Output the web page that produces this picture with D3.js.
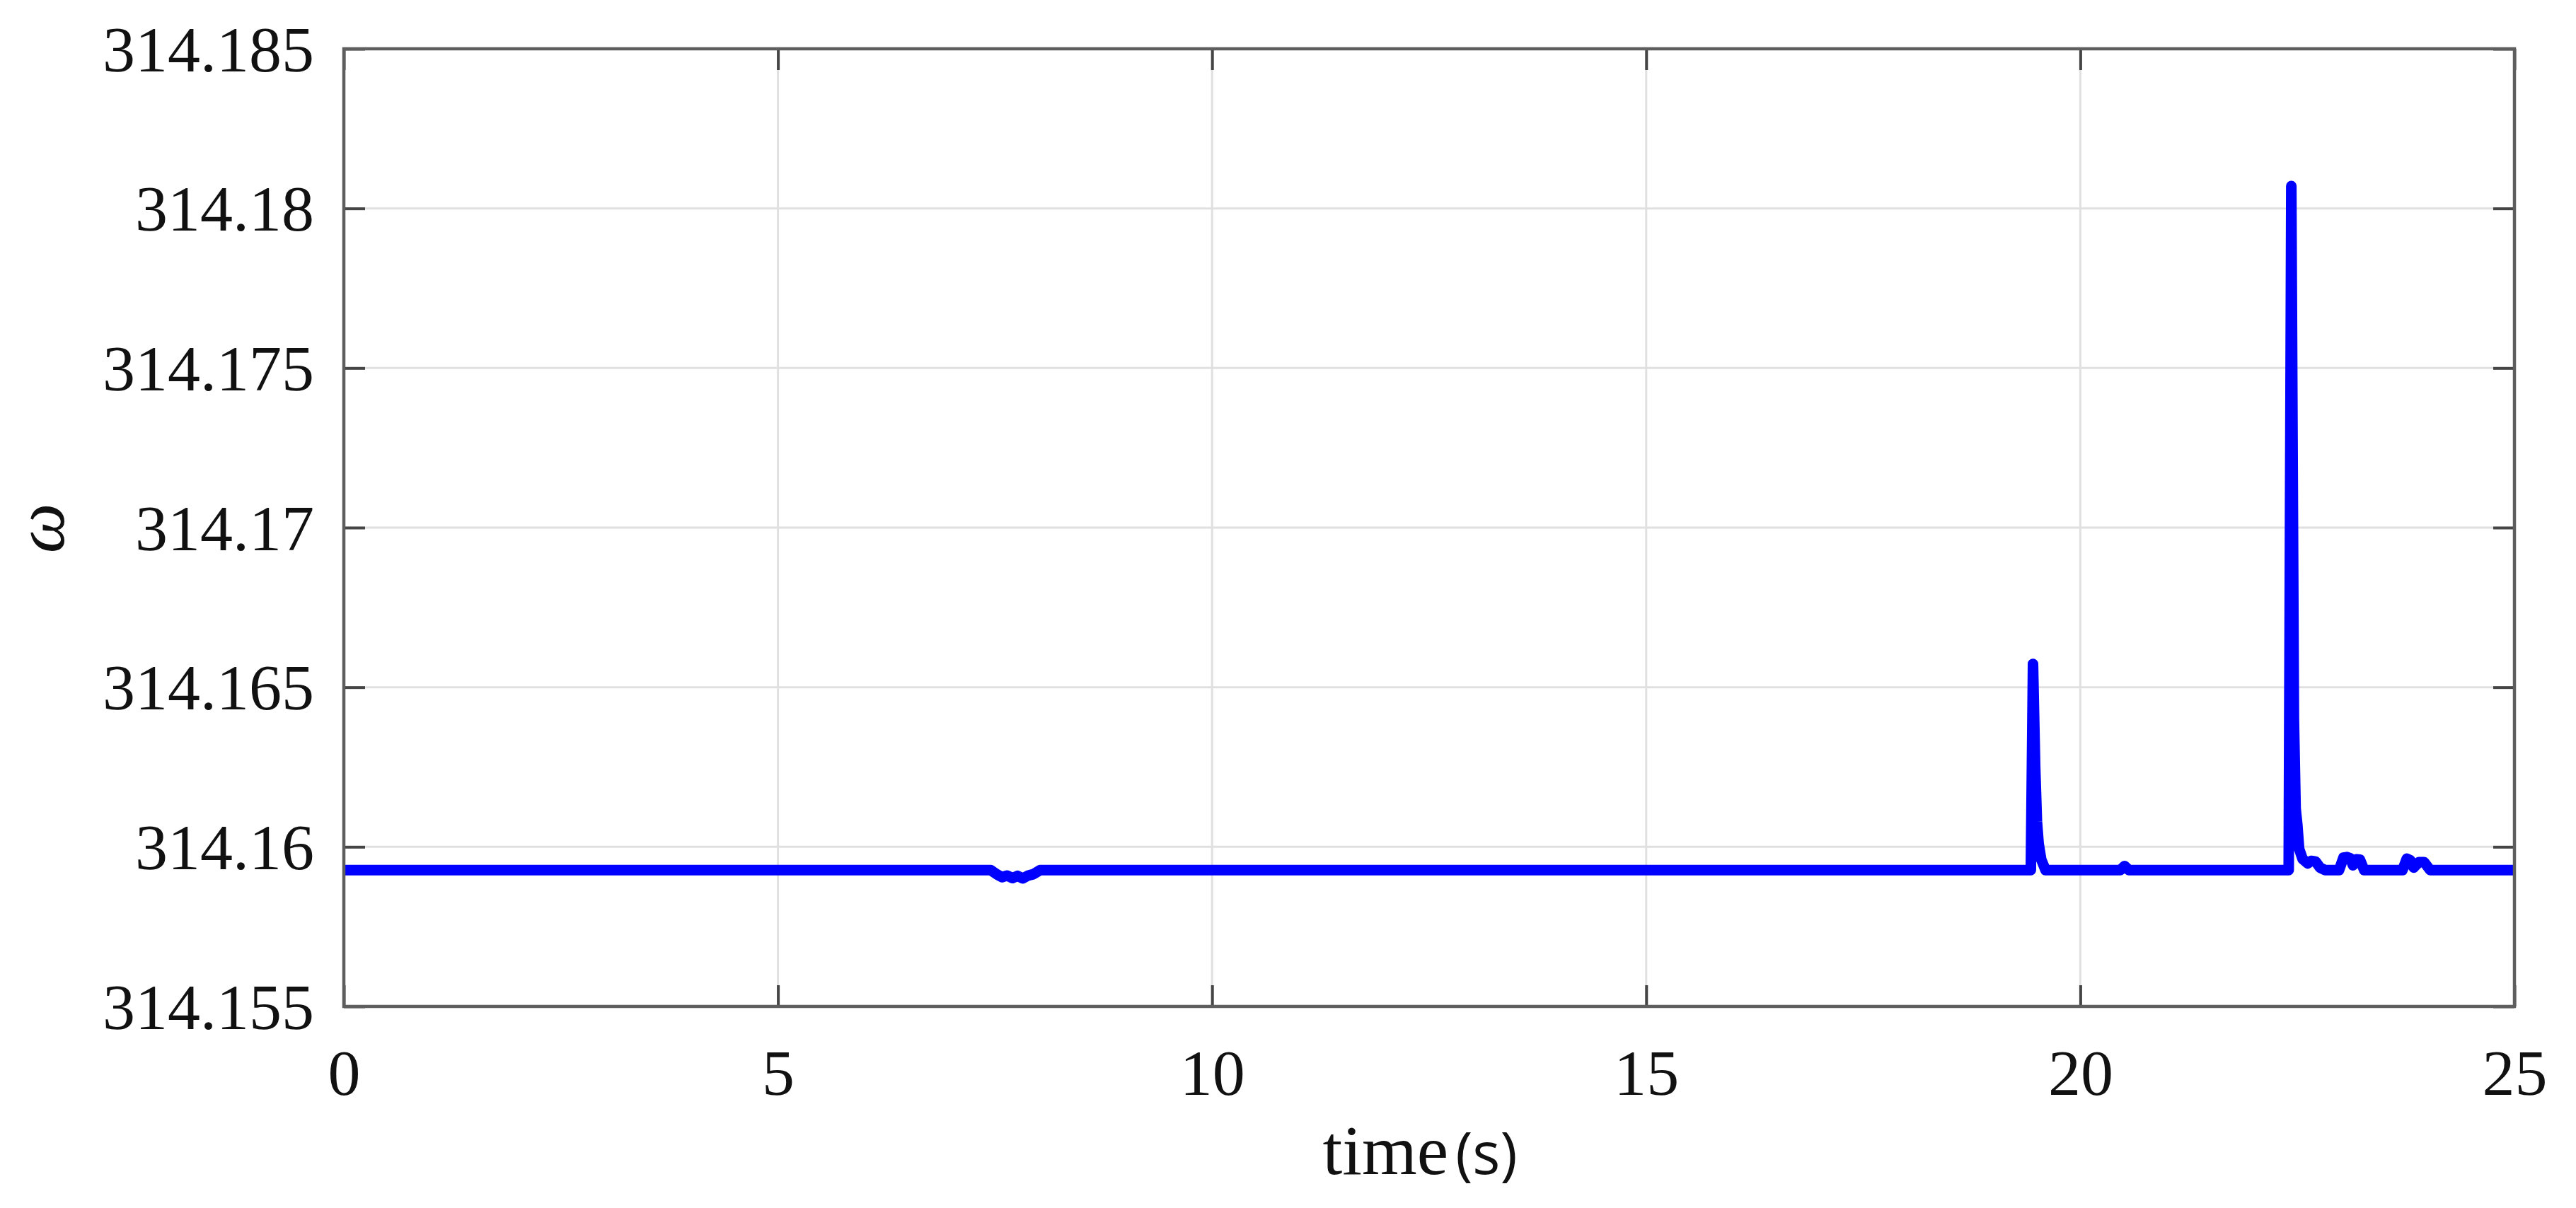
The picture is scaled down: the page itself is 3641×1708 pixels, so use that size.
<!DOCTYPE html>
<html>
<head>
<meta charset="utf-8">
<script src="https://cdnjs.cloudflare.com/ajax/libs/d3/7.8.5/d3.min.js"></script>
<style>
  body { margin: 0; background: #fff; }
  svg { display: block; }
</style>
</head>
<body>
<svg width="3641" height="1708"></svg>
<script>
// time (s) and rotor speed omega
var time = [0, 7.45, 7.52, 7.58, 7.64, 7.70, 7.76, 7.82, 7.88, 7.94, 8.02,
  19.43, 19.455, 19.48, 19.50, 19.52, 19.55, 19.60,
  20.46, 20.51, 20.56,
  22.40, 22.43, 22.46, 22.48, 22.50, 22.52, 22.56, 22.62, 22.66, 22.71, 22.76, 22.82,
  22.98, 23.03, 23.07, 23.11, 23.14, 23.18, 23.22, 23.27,
  23.71, 23.76, 23.80, 23.84, 23.90, 23.96, 24.03, 25];
var omega = [314.15927, 314.15927, 314.15914, 314.15905, 314.15910, 314.15902, 314.15909, 314.15901, 314.15910, 314.15914, 314.15927,
  314.15927, 314.16573, 314.16250, 314.16080, 314.16010, 314.15960, 314.15927,
  314.15927, 314.15940, 314.15927,
  314.15927, 314.18070, 314.16400, 314.16120, 314.16067, 314.15994, 314.15962, 314.15948, 314.15956, 314.15954, 314.15935, 314.15927,
  314.15927, 314.15966, 314.15968, 314.15964, 314.15942, 314.15961, 314.15960, 314.15927,
  314.15927, 314.15963, 314.15958, 314.15935, 314.15952, 314.15952, 314.15927, 314.15927];

var xTicks = [0, 5, 10, 15, 20, 25];
var yTicks = [314.155, 314.16, 314.165, 314.17, 314.175, 314.18, 314.185];
var yTickLabels = ["314.155", "314.16", "314.165", "314.17", "314.175", "314.18", "314.185"];

var svg = d3.select("svg"),
    margin = {top: 69, right: 87, bottom: 285, left: 486},
    width = +svg.attr("width") - margin.left - margin.right,
    height = +svg.attr("height") - margin.top - margin.bottom,
    g = svg.append("g").attr("transform", "translate(" + margin.left + "," + margin.top + ")");

var serif = "'Liberation Serif', 'Times New Roman', serif";

var x = d3.scaleLinear().domain([0, 25]).range([0, width]);
var y = d3.scaleLinear().domain([314.155, 314.185]).range([height, 0]);

// grid
g.append("g").selectAll("line")
  .data(xTicks)
  .enter().append("line")
    .attr("x1", function(d) { return x(d); })
    .attr("x2", function(d) { return x(d); })
    .attr("y1", 0)
    .attr("y2", height)
    .attr("stroke", "#e0e0e0")
    .attr("stroke-width", 3);

g.append("g").selectAll("line")
  .data(yTicks)
  .enter().append("line")
    .attr("x1", 0)
    .attr("x2", width)
    .attr("y1", function(d) { return y(d); })
    .attr("y2", function(d) { return y(d); })
    .attr("stroke", "#e0e0e0")
    .attr("stroke-width", 3);

// data line
var line = d3.line()
    .x(function(d, i) { return x(time[i]); })
    .y(function(d) { return y(d); });

g.append("path")
    .datum(omega)
    .attr("d", line)
    .attr("fill", "none")
    .attr("stroke", "#0000ff")
    .attr("stroke-width", 15)
    .attr("stroke-linejoin", "round")
    .attr("stroke-linecap", "butt");

// axes, ticks pointing inward on all four sides
function styleAxis(sel) {
  sel.select(".domain").remove();
  sel.selectAll(".tick line").attr("stroke", "#454545").attr("stroke-width", 4);
  sel.selectAll("text")
    .attr("fill", "#111")
    .style("font-family", serif)
    .style("font-size", "92px");
}

var xAxis = g.append("g")
    .attr("transform", "translate(0," + height + ")")
    .call(d3.axisBottom(x).tickValues(xTicks).tickFormat(d3.format("d")).tickSizeInner(-30).tickSizeOuter(0))
    .call(styleAxis);
xAxis.selectAll("text").attr("y", 125).attr("dy", 0);

var yAxis = g.append("g")
    .call(d3.axisLeft(y).tickValues(yTicks).tickFormat(function(d, i) { return yTickLabels[i]; })
      .tickSizeInner(-30).tickSizeOuter(0).tickPadding(42))
    .call(styleAxis);
yAxis.selectAll("text").attr("dy", "0.34em");

g.append("g")
    .call(d3.axisTop(x).tickValues(xTicks).tickFormat("").tickSizeInner(-30).tickSizeOuter(0))
    .call(styleAxis);

g.append("g")
    .attr("transform", "translate(" + width + ",0)")
    .call(d3.axisRight(y).tickValues(yTicks).tickFormat("").tickSizeInner(-30).tickSizeOuter(0))
    .call(styleAxis);

// box
g.append("rect")
    .attr("width", width)
    .attr("height", height)
    .attr("fill", "none")
    .attr("stroke", "#5e5e5e")
    .attr("stroke-width", 4.5);

// x label: "time" in serif, "(s)" in sans
var xl = svg.append("text")
    .attr("x", 2007)
    .attr("y", 1660)
    .attr("text-anchor", "middle")
    .attr("fill", "#111");
xl.append("tspan")
    .style("font-family", serif)
    .style("font-size", "100px")
    .text("time");
xl.append("tspan")
    .attr("dx", 10)
    .style("font-family", "'Open Sans', 'Liberation Sans', sans-serif")
    .style("font-size", "82px")
    .text("(s)");

// y label
svg.append("text")
    .attr("transform", "translate(90,747) rotate(-90)")
    .attr("text-anchor", "middle")
    .attr("fill", "#111")
    .style("font-family", serif)
    .style("font-style", "italic")
    .style("font-size", "100px")
    .text("ω");
</script>
</body>
</html>
